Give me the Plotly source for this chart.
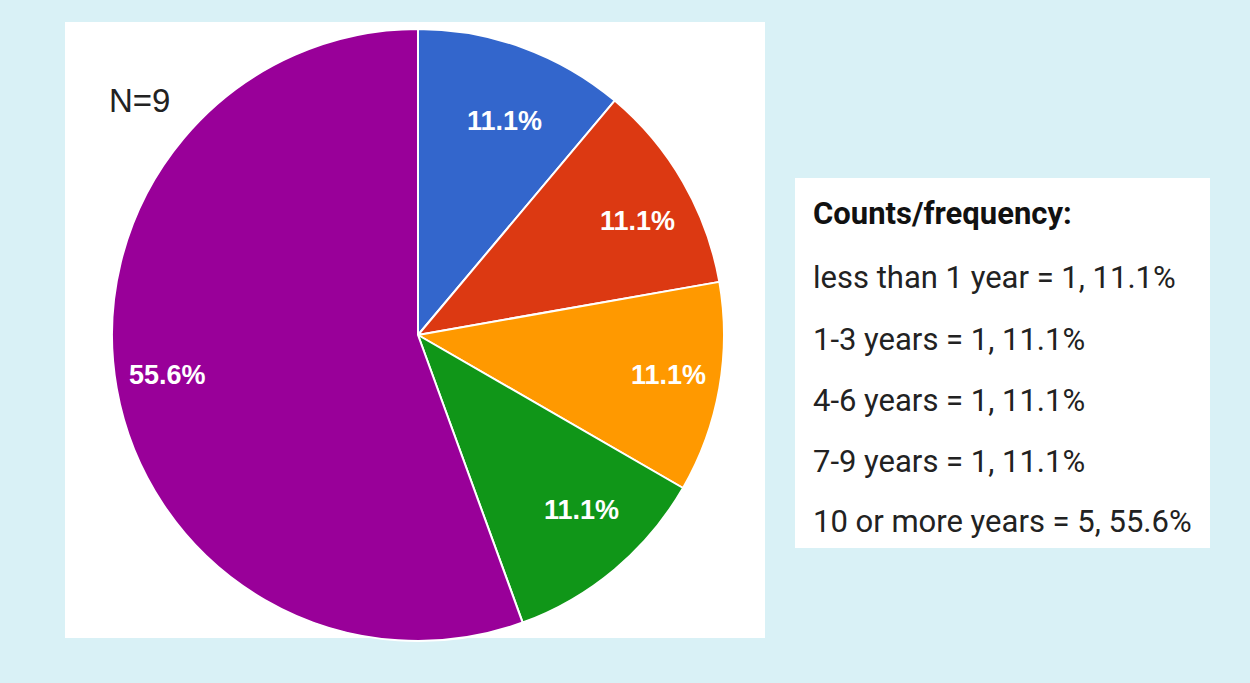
#! /usr/bin/env python3

import math
import plotly.graph_objects as go

# experience categories and counts (N=9)
categories = ["less than 1 year", "1-3 years", "4-6 years", "7-9 years", "10 or more years"]
counts = [1, 1, 1, 1, 5]
sliceColors = ["#3366cc", "#dc3912", "#ff9900", "#109618", "#990099"]

legendTitle = "Counts/frequency:"
total = sum(counts)

W, H = 1250, 683
BG = "#d9f1f6"

def px_x(v):
	return v / W

def px_y(v):
	return (H - v) / H

# pie placement (pixels)
cx, cy, R = 418, 335, 306

fig = go.Figure()

fig.add_trace(go.Pie(
	labels=categories,
	values=counts,
	sort=False,
	direction="clockwise",
	rotation=0,
	marker=dict(colors=sliceColors, line=dict(color="white", width=2)),
	textinfo="none",
	hoverinfo="skip",
	showlegend=False,
	domain=dict(x=[px_x(cx - R), px_x(cx + R)], y=[px_y(cy + R), px_y(cy - R)]),
))

shapes = [
	# white chart panel
	dict(type="rect", xref="paper", yref="paper", layer="below",
		x0=px_x(65), x1=px_x(765), y0=px_y(638), y1=px_y(22),
		fillcolor="white", line=dict(width=0)),
	# white legend box
	dict(type="rect", xref="paper", yref="paper", layer="below",
		x0=px_x(795), x1=px_x(1210), y0=px_y(548), y1=px_y(178),
		fillcolor="white", line=dict(width=0)),
]

annotations = [
	dict(text="N=" + str(total), x=px_x(107), y=px_y(100), xref="paper", yref="paper",
		xanchor="left", yanchor="middle", showarrow=False,
		font=dict(family="Liberation Sans, Arial", size=33, color="#222222")),
	dict(text="<b>" + legendTitle + "</b>", x=px_x(811), y=px_y(214), xref="paper", yref="paper",
		xanchor="left", yanchor="middle", showarrow=False,
		font=dict(family="Roboto, Liberation Sans", size=31, color="#111111")),
]

# slice percentage labels, placed along each slice's mid angle
fracX, fracY = 0.83, 0.745
cum = 0
for i, v in enumerate(counts):
	mid = (cum + v / 2) / total * 2 * math.pi
	cum += v
	lx = cx + fracX * R * math.sin(mid)
	ly = cy - fracY * R * math.cos(mid)
	annotations.append(dict(
		text="<b>%.1f%%</b>" % (v / total * 100),
		x=px_x(lx), y=px_y(ly), xref="paper", yref="paper",
		xanchor="center", yanchor="middle", showarrow=False,
		font=dict(family="Liberation Sans, Arial", size=27, color="white")))

lineY = [277, 339, 400, 461, 521]
for i, cat in enumerate(categories):
	pct = counts[i] / total * 100
	annotations.append(dict(
		text="%s = %d, %.1f%%" % (cat, counts[i], pct),
		x=px_x(811), y=px_y(lineY[i]), xref="paper", yref="paper",
		xanchor="left", yanchor="middle", showarrow=False,
		font=dict(family="Roboto, Liberation Sans", size=31, color="#222222")))

fig.update_layout(
	width=W, height=H,
	margin=dict(l=0, r=0, t=0, b=0),
	paper_bgcolor=BG,
	plot_bgcolor=BG,
	shapes=shapes,
	annotations=annotations,
)

# drop the page's default body margin so the figure fills the window
fig.write_html("out.html",
	config={"displayModeBar": False},
	post_script="document.body.style.margin='0';document.body.style.background='%s';" % BG)
